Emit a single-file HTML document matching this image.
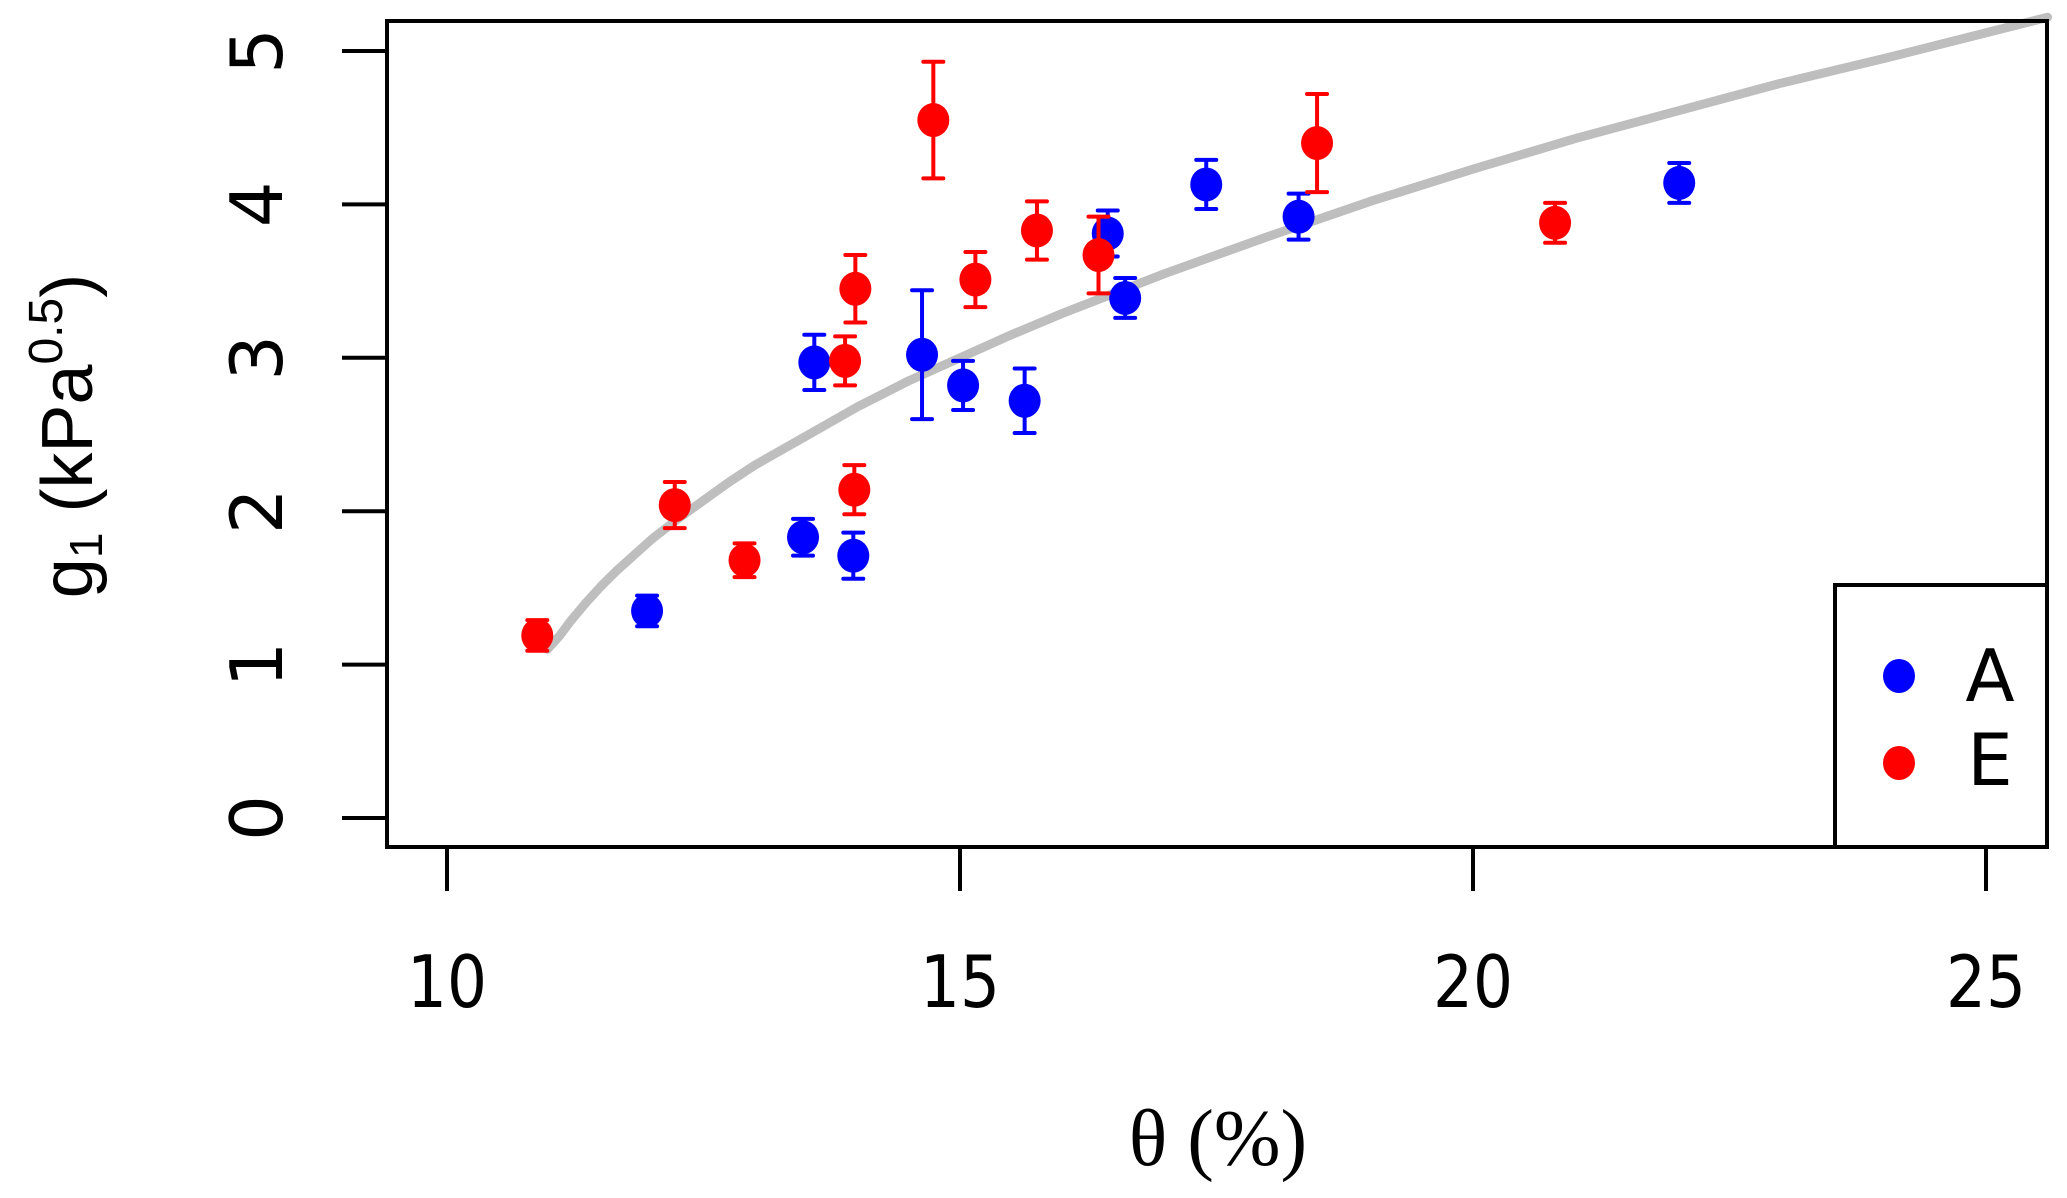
<!DOCTYPE html>
<html><head><meta charset="utf-8"><style>
html,body{margin:0;padding:0;background:#fff;}
svg{display:block;}
</style></head><body>
<svg id="chart" width="2067" height="1198" viewBox="0 0 2067 1198" xmlns="http://www.w3.org/2000/svg">
<rect x="0" y="0" width="2067" height="1198" fill="#fff"/>
<g id="curve-layer"></g>
<g id="points-layer"></g>
<rect x="387" y="21" width="1660" height="826" fill="none" stroke="#000" stroke-width="4"/>
<g id="axes-layer"></g>
<text x="1218" y="1165" font-family="Liberation Serif, serif" font-size="80" text-anchor="middle">θ (%)</text>
<text transform="translate(92,436) rotate(-90)" font-family="Liberation Sans, sans-serif" font-size="72" text-anchor="middle">g<tspan font-size="46" dy="10">1</tspan><tspan dy="-10"> (kPa</tspan><tspan font-size="48" dy="-30">0.5</tspan><tspan dy="30">)</tspan></text>
<g>
<rect x="1835" y="585" width="212" height="262" fill="#fff" stroke="#000" stroke-width="4"/>
<ellipse cx="1899" cy="676" rx="16" ry="17" fill="#0000ff"/>
<text x="1990" y="701" font-family="DejaVu Sans, sans-serif" font-size="72" text-anchor="middle">A</text>
<ellipse cx="1899" cy="763" rx="16" ry="17" fill="#ff0000"/>
<text x="1990" y="785" font-family="DejaVu Sans, sans-serif" font-size="72" text-anchor="middle">E</text>
</g>
</svg>
<script>
const xTicks = [10, 15, 20, 25];
const yTicks = [0, 1, 2, 3, 4, 5];
const aX = [11.95, 13.47, 13.58, 13.96, 14.63, 15.03, 15.63, 16.44, 16.61, 17.40, 18.30, 22.01];
const aY = [1.35, 1.83, 2.97, 1.71, 3.02, 2.82, 2.72, 3.81, 3.39, 4.13, 3.92, 4.14];
const aErr = [0.10, 0.12, 0.18, 0.15, 0.42, 0.16, 0.21, 0.15, 0.13, 0.16, 0.15, 0.13];
const eX = [10.88, 12.22, 12.90, 13.88, 13.97, 13.98, 14.74, 15.15, 15.75, 16.35, 18.48, 20.80];
const eY = [1.19, 2.04, 1.68, 2.98, 2.14, 3.45, 4.55, 3.51, 3.83, 3.67, 4.40, 3.88];
const eErr = [0.10, 0.15, 0.11, 0.16, 0.16, 0.22, 0.38, 0.18, 0.19, 0.25, 0.32, 0.13];
const fitX = [10.98, 11.1, 11.2, 11.35, 11.5, 11.65, 11.8, 12, 12.25, 12.5, 12.75, 13, 13.5, 14, 14.5, 15, 15.5, 16, 16.5, 17, 18, 19, 20, 21, 22, 23, 24, 25.6];
const fitY = [1.10, 1.19, 1.28, 1.40, 1.51, 1.61, 1.70, 1.82, 1.95, 2.07, 2.19, 2.30, 2.49, 2.68, 2.85, 3.00, 3.15, 3.29, 3.42, 3.55, 3.79, 4.02, 4.23, 4.43, 4.61, 4.79, 4.95, 5.22];

const NS = 'http://www.w3.org/2000/svg';
function sx(v){ return 447 + (v - 10) * 102.6; }
function sy(v){ return 818 - v * 153.4; }
function mk(tag, attrs, parent){
  const el = document.createElementNS(NS, tag);
  for (const k in attrs) el.setAttribute(k, attrs[k]);
  parent.appendChild(el);
  return el;
}
const axes = document.getElementById('axes-layer');
xTicks.forEach(t => {
  const l = mk('line', {x1:sx(t), x2:sx(t), y1:847, y2:891, stroke:'#000', 'stroke-width':4}, axes);
  
  
  const tx = mk('text', {x:sx(t), y:1007, 'font-family':'DejaVu Sans, sans-serif', 'font-size':72, 'text-anchor':'middle', textLength:(String(t).length*40), lengthAdjust:'spacingAndGlyphs'}, axes);
  tx.textContent = t;
  
  
});
yTicks.forEach(t => {
  const l = mk('line', {x1:342, x2:387, y1:sy(t), y2:sy(t), stroke:'#000', 'stroke-width':4}, axes);
  
  
  const tx = mk('text', {transform:'translate(282,' + sy(t) + ') rotate(-90)', 'font-family':'DejaVu Sans, sans-serif', 'font-size':72, 'text-anchor':'middle'}, axes);
  tx.textContent = t;
  
  
});
const cl = document.getElementById('curve-layer');
const path = mk('polyline', {points: fitX.map((x,i)=> sx(x)+','+sy(fitY[i])).join(' '), fill:'none', stroke:'#bebebe', 'stroke-width':9, 'stroke-linecap':'round', 'stroke-linejoin':'round'}, cl);



const pl = document.getElementById('points-layer');
function series(xs, ys, errs, color, name){
  const g = mk('g', {}, pl);
  
  
  xs.forEach((x,i) => {
    const cx = sx(x), top = sy(ys[i] + errs[i]), bot = sy(ys[i] - errs[i]);
    const eb = mk('path', {d:'M'+cx+','+top+'V'+bot+'M'+(cx-10)+','+top+'H'+(cx+10)+'M'+(cx-10)+','+bot+'H'+(cx+10), stroke:color, 'stroke-width':4, fill:'none', 'stroke-linecap':'round'}, g);
    
    
    const c = mk('ellipse', {cx:cx, cy:sy(ys[i]), rx:16, ry:17, fill:color}, g);
    
    
  });
}
series(aX, aY, aErr, '#0000ff', 'a');
series(eX, eY, eErr, '#ff0000', 'e');
</script>
</body></html>
